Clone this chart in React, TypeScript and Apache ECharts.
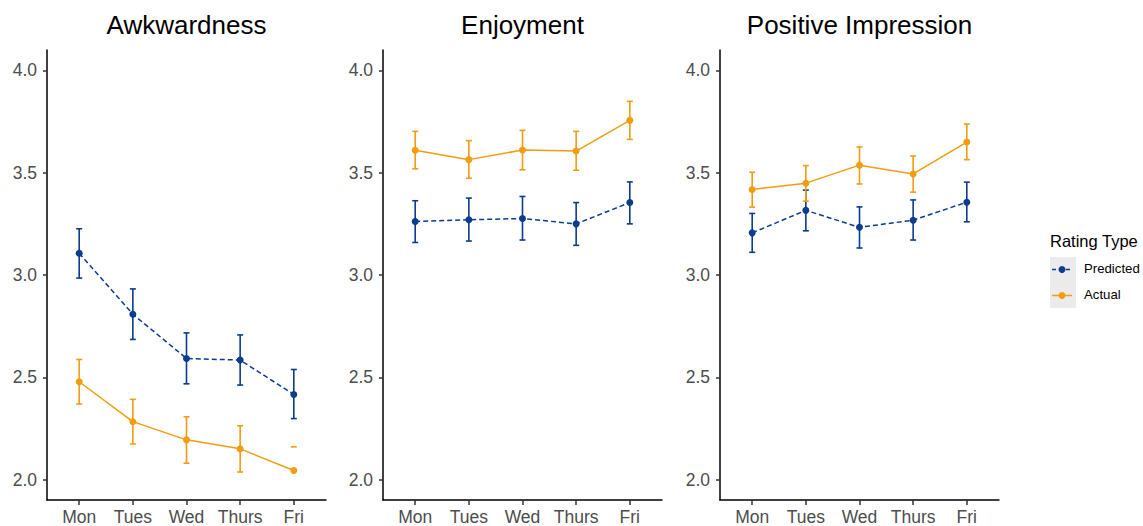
import React, { useEffect, useRef } from "react";
import * as echarts from "echarts";

const days = ["Mon", "Tues", "Wed", "Thurs", "Fri"];
const panelTitles = ["Awkwardness", "Enjoyment", "Positive Impression"];
const yTicks = [2.0, 2.5, 3.0, 3.5, 4.0];
const legendNames = ["Predicted", "Actual"];

// Awkwardness
const awkPredMean = [3.106, 2.808, 2.592, 2.584, 2.416];
const awkPredLow = [2.985, 2.685, 2.468, 2.462, 2.298];
const awkPredHigh = [3.226, 2.932, 2.717, 2.707, 2.538];
const awkActMean = [2.478, 2.283, 2.194, 2.15, 2.044];
const awkActLow: (number | null)[] = [2.369, 2.174, 2.08, 2.037, null];
const awkActHigh = [2.587, 2.392, 2.307, 2.263, 2.16];

// Enjoyment
const enjPredMean = [3.262, 3.27, 3.276, 3.25, 3.354];
const enjPredLow = [3.159, 3.166, 3.171, 3.145, 3.25];
const enjPredHigh = [3.363, 3.376, 3.384, 3.354, 3.455];
const enjActMean = [3.61, 3.564, 3.611, 3.606, 3.756];
const enjActLow: (number | null)[] = [3.519, 3.473, 3.514, 3.512, 3.663];
const enjActHigh = [3.702, 3.657, 3.707, 3.702, 3.849];

// Positive Impression
const posPredMean = [3.206, 3.316, 3.233, 3.268, 3.356];
const posPredLow = [3.111, 3.216, 3.132, 3.171, 3.26];
const posPredHigh = [3.301, 3.415, 3.333, 3.367, 3.454];
const posActMean = [3.418, 3.449, 3.537, 3.494, 3.65];
const posActLow: (number | null)[] = [3.332, 3.361, 3.445, 3.405, 3.564];
const posActHigh = [3.502, 3.535, 3.626, 3.582, 3.738];

const PRED_COLOR = "#0b3c8e";
const ACT_COLOR = "#f39c0f";

const panels = [
  { pm: awkPredMean, pl: awkPredLow, ph: awkPredHigh, am: awkActMean, al: awkActLow, ah: awkActHigh },
  { pm: enjPredMean, pl: enjPredLow, ph: enjPredHigh, am: enjActMean, al: enjActLow, ah: enjActHigh },
  { pm: posPredMean, pl: posPredLow, ph: posPredHigh, am: posActMean, al: posActLow, ah: posActHigh },
];

const gridLefts = [47, 383, 720];
const GRID_W = 279;
const GRID_TOP = 50;
const GRID_H = 451;

function errorSeries(name: string, idx: number, lows: (number | null)[], highs: number[], color: string) {
  const data = highs.map((h, i) => {
    const lo = lows[i];
    return [i + 1, lo == null ? h : lo, h, lo == null ? 0 : 1];
  });
  return {
    type: "custom",
    name,
    xAxisIndex: idx,
    yAxisIndex: idx,
    silent: true,
    encode: { x: 0, y: [1, 2] },
    data,
    z: 3,
    renderItem: (params: any, api: any) => {
      const x = api.value(0);
      const lo = api.value(1);
      const hi = api.value(2);
      const hasLo = api.value(3) === 1;
      const pHi = api.coord([x, hi]);
      const pLo = api.coord([x, lo]);
      const cap = 3;
      const style = { stroke: color, lineWidth: 1.6, fill: null };
      const children: any[] = [
        { type: "line", shape: { x1: pHi[0] - cap, y1: pHi[1], x2: pHi[0] + cap, y2: pHi[1] }, style },
      ];
      if (hasLo) {
        children.push({ type: "line", shape: { x1: pLo[0], y1: pLo[1], x2: pHi[0], y2: pHi[1] }, style });
        children.push({ type: "line", shape: { x1: pLo[0] - cap, y1: pLo[1], x2: pLo[0] + cap, y2: pLo[1] }, style });
      }
      return { type: "group", children };
    },
  };
}

export default function App() {
  const ref = useRef<HTMLDivElement>(null);
  useEffect(() => {
    if (!ref.current) return;
    const chart = echarts.init(ref.current, undefined, { renderer: "svg" });
    const font = "Liberation Sans, Arial, sans-serif";

    const grids = gridLefts.map((l) => ({ left: l, top: GRID_TOP, width: GRID_W, height: GRID_H }));
    const xAxes = gridLefts.map((_, i) => ({
      type: "value",
      gridIndex: i,
      min: 0.4,
      max: 5.6,
      splitLine: { show: false },
      axisLine: { show: true, onZero: false, lineStyle: { color: "#000", width: 1.5 } },
      axisTick: { show: true, customValues: [1, 2, 3, 4, 5], length: 5, lineStyle: { color: "#333", width: 1.5 } },
      axisLabel: {
        customValues: [1, 2, 3, 4, 5],
        formatter: (v: number) => days[Math.round(v) - 1] ?? "",
        color: "#4d4d4d",
        fontSize: 17.5,
        fontFamily: font,
        margin: 8,
      },
    }));
    const yAxes = gridLefts.map((_, i) => ({
      type: "value",
      gridIndex: i,
      min: 1.9,
      max: 4.1,
      splitLine: { show: false },
      axisLine: { show: true, onZero: false, lineStyle: { color: "#000", width: 1.5 } },
      axisTick: { show: true, customValues: yTicks, length: 4, lineStyle: { color: "#333", width: 1.5 } },
      axisLabel: {
        customValues: yTicks,
        formatter: (v: number) => v.toFixed(1),
        color: "#4d4d4d",
        fontSize: 17.5,
        fontFamily: font,
        margin: 10,
      },
    }));

    const series: any[] = [];
    panels.forEach((p, i) => {
      series.push({
        type: "line",
        name: legendNames[0],
        xAxisIndex: i,
        yAxisIndex: i,
        data: p.pm.map((v, k) => [k + 1, v]),
        symbol: "circle",
        symbolSize: 7,
        lineStyle: { color: PRED_COLOR, width: 1.5, type: [5, 3] },
        itemStyle: { color: PRED_COLOR },
        z: 4,
      });
      series.push({
        type: "line",
        name: legendNames[1],
        xAxisIndex: i,
        yAxisIndex: i,
        data: p.am.map((v, k) => [k + 1, v]),
        symbol: "circle",
        symbolSize: 7,
        lineStyle: { color: ACT_COLOR, width: 1.5 },
        itemStyle: { color: ACT_COLOR },
        z: 4,
      });
      series.push(errorSeries(legendNames[0] + " error", i, p.pl, p.ph, PRED_COLOR));
      series.push(errorSeries(legendNames[1] + " error", i, p.al, p.ah, ACT_COLOR));
    });

    const titles = panelTitles.map((t, i) => ({
      text: t,
      left: gridLefts[i] + GRID_W / 2 - 5,
      top: 7,
      textAlign: "center",
      textStyle: { fontSize: 26, fontWeight: "normal", color: "#000", fontFamily: font },
    }));

    const graphic: any[] = [
      {
        type: "text",
        left: 1050,
        top: 232,
        style: { text: "Rating Type", fontSize: 16.5, fill: "#000", fontFamily: font },
      },
      { type: "rect", shape: { x: 1050, y: 257, width: 26, height: 51 }, style: { fill: "#ebebeb" } },
      { type: "line", shape: { x1: 1052, y1: 269.5, x2: 1072, y2: 269.5 }, style: { stroke: PRED_COLOR, lineWidth: 1.5, lineDash: [4, 3] } },
      { type: "circle", shape: { cx: 1062, cy: 269.5, r: 3.5 }, style: { fill: PRED_COLOR } },
      { type: "line", shape: { x1: 1052, y1: 295.5, x2: 1072, y2: 295.5 }, style: { stroke: ACT_COLOR, lineWidth: 1.5 } },
      { type: "circle", shape: { cx: 1062, cy: 295.5, r: 3.5 }, style: { fill: ACT_COLOR } },
      {
        type: "text",
        left: 1084,
        top: 261.5,
        style: { text: legendNames[0], fontSize: 13.2, fill: "#000", fontFamily: font },
      },
      {
        type: "text",
        left: 1084,
        top: 287.5,
        style: { text: legendNames[1], fontSize: 13.2, fill: "#000", fontFamily: font },
      },
    ];

    chart.setOption({
      animation: false,
      backgroundColor: "#fff",
      title: titles,
      grid: grids,
      xAxis: xAxes,
      yAxis: yAxes,
      series,
      graphic,
    });
    return () => chart.dispose();
  }, []);
  return (
    <div
      ref={ref}
      style={{ position: "fixed", left: 0, top: 0, width: 1143, height: 526, background: "#fff" }}
    />
  );
}
